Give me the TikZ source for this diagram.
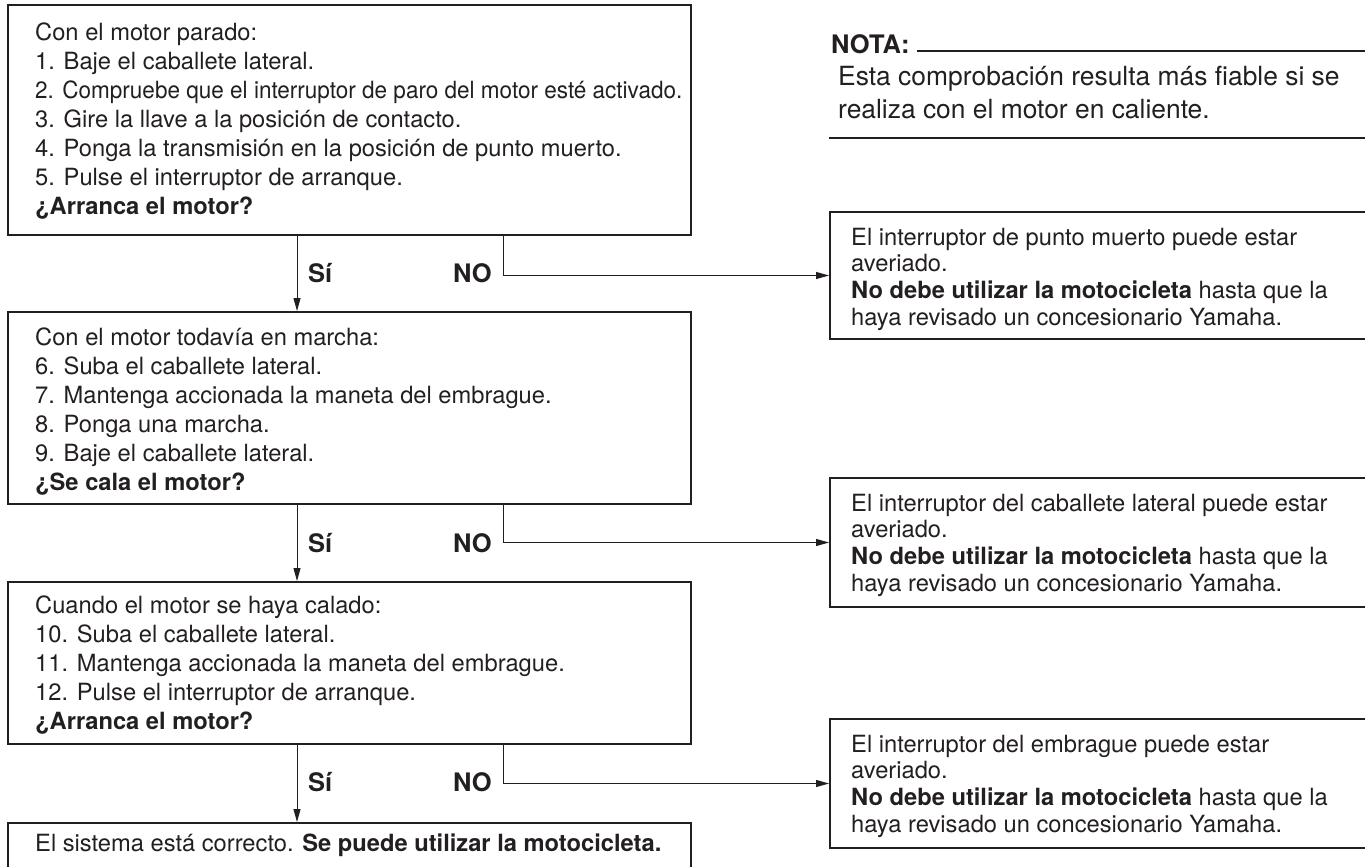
\documentclass[tikz,border=0pt]{standalone}
\usepackage{fontspec}
\setmainfont{TeX Gyre Heros}
\usepackage{graphicx}
\usepackage{xcolor}
\usepackage{tikz}
\usetikzlibrary{arrows.meta}

\definecolor{ink}{HTML}{231F20}
\newcommand{\mainfs}{\fontsize{23.7}{29}\selectfont}
\newcommand{\sidefs}{\fontsize{23.7}{26.7}\selectfont}
\newcommand{\notefs}{\fontsize{26.4}{33}\selectfont}

\tikzset{
  box/.style={draw=ink, line width=2pt, anchor=north west, inner sep=0pt},
  txt/.style={anchor=base west, inner sep=0pt, text=ink},
  answer/.style={txt, font=\bfseries\fontsize{25.5}{28}\selectfont},
  arr/.style={draw=ink, line width=1pt, -{Triangle[length=13pt,width=7pt]}},
  rule/.style={draw=ink, line width=1.2pt},
}

\begin{document}
\begin{tikzpicture}[x=1pt,y=-1pt]
    \useasboundingbox (0,0) rectangle (1365,867);
    % left column: checks
    \node[box, minimum width=683pt, minimum height=230pt] (q1) at (7,4) {};
    \node[box, minimum width=683pt, minimum height=192pt] (q2) at (7,311) {};
    \node[box, minimum width=683pt, minimum height=162pt] (q3) at (7,581) {};
    \node[box, minimum width=683pt, minimum height=46pt] (ok) at (7,822) {};
    \node[txt] (q1t) at (35,41) {\parbox[t]{660pt}{\mainfs\raggedright
      Con el motor parado:\\
      1. Baje el caballete lateral.\\
      \scalebox{0.95}[1]{2. Compruebe que el interruptor de paro del motor esté activado.}\\
      3. Gire la llave a la posición de contacto.\\
      4. Ponga la transmisión en la posición de punto muerto.\\
      5. Pulse el interruptor de arranque.\\
      \textbf{¿Arranca el motor?}}};
    \node[txt] (q2t) at (35,345) {\parbox[t]{660pt}{\mainfs\raggedright
      Con el motor todavía en marcha:\\
      6. Suba el caballete lateral.\\
      7. Mantenga accionada la maneta del embrague.\\
      8. Ponga una marcha.\\
      9. Baje el caballete lateral.\\
      \textbf{¿Se cala el motor?}}};
    \node[txt] (q3t) at (35,613) {\parbox[t]{660pt}{\mainfs\raggedright
      Cuando el motor se haya calado:\\
      10. Suba el caballete lateral.\\
      11. Mantenga accionada la maneta del embrague.\\
      12. Pulse el interruptor de arranque.\\
      \textbf{¿Arranca el motor?}}};
    \node[txt, font=\mainfs] (okt) at (35,851) {El sistema está correcto. \textbf{Se puede utilizar la motocicleta.}};
    % right column: faults
    \node[box, minimum width=539pt, minimum height=127pt] (r1) at (829,211) {};
    \node[box, minimum width=539pt, minimum height=129pt] (r2) at (829,477) {};
    \node[box, minimum width=539pt, minimum height=129pt] (r3) at (829,718) {};
    \node[txt] (r1t) at (851,245) {\parbox[t]{510pt}{\sidefs\raggedright
      El interruptor de punto muerto puede estar\\
      averiado.\\
      \textbf{No debe utilizar la motocicleta} hasta que la\\
      haya revisado un concesionario Yamaha.}};
    \node[txt] (r2t) at (851,511) {\parbox[t]{510pt}{\sidefs\raggedright
      El interruptor del caballete lateral puede estar\\
      averiado.\\
      \textbf{No debe utilizar la motocicleta} hasta que la\\
      haya revisado un concesionario Yamaha.}};
    \node[txt] (r3t) at (851,752) {\parbox[t]{510pt}{\sidefs\raggedright
      El interruptor del embrague puede estar\\
      averiado.\\
      \textbf{No debe utilizar la motocicleta} hasta que la\\
      haya revisado un concesionario Yamaha.}};
    % note
    \node[txt, font=\bfseries\fontsize{25.5}{30}\selectfont] (nota) at (831,53) {NOTA:};
    \node[txt] (notat) at (838,85) {\parbox[t]{525pt}{\notefs\raggedright
      Esta comprobación resulta más fiable si se\\
      realiza con el motor en caliente.}};
    \draw[rule] (917,51) -- (1365,51);
    \draw[rule] (829,138) -- (1365,138);
    % answers
    \coordinate (yx) at (297,0);
    \coordinate (nx) at (503,0);
    \node[answer] (si1) at (308,282) {Sí};
    \node[answer] (no1) at (453,282) {NO};
    \node[answer] (si2) at (308,552) {Sí};
    \node[answer] (no2) at (453,552) {NO};
    \node[answer] (si3) at (308,791) {Sí};
    \node[answer] (no3) at (453,791) {NO};
    \draw[arr] (q1.south -| yx) -- (q2.north -| yx);
    \draw[arr] (q2.south -| yx) -- (q3.north -| yx);
    \draw[arr] (q3.south -| yx) -- (ok.north -| yx);
    \draw[arr] (q1.south -| nx) |- (r1.west);
    \draw[arr] (q2.south -| nx) |- (r2.west);
    \draw[arr] (q3.south -| nx) |- (r3.west);
\end{tikzpicture}
\end{document}
